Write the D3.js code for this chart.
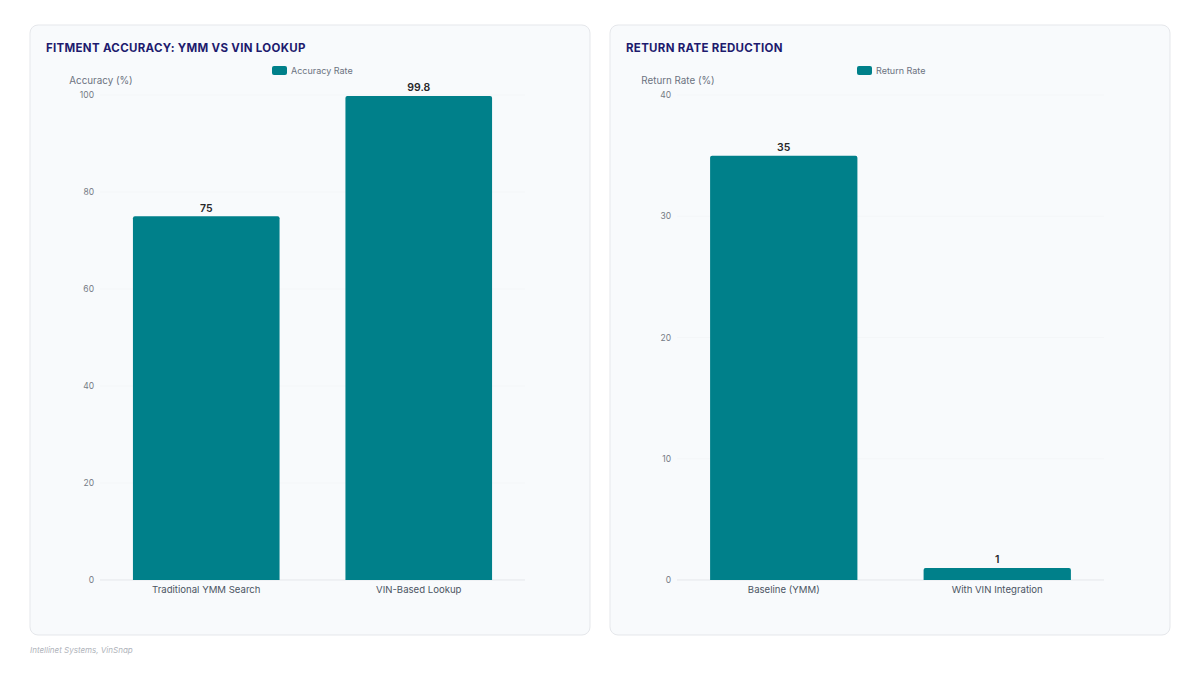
<!DOCTYPE html>
<html lang="en">
<head>
<meta charset="UTF-8">
<title>Fitment accuracy and return rate</title>
<style>
  body { margin: 0; background: #ffffff; font-family: Inter, "Noto Sans", sans-serif; }
  svg { display: block; }
</style>
</head>
<body>
<script src="https://cdn.jsdelivr.net/npm/d3@7"></script>
<script>
// data
var accCategories = ["Traditional YMM Search", "VIN-Based Lookup"];
var accValues = [75, 99.8];
var accTicks = [0, 20, 40, 60, 80, 100];

var retCategories = ["Baseline (YMM)", "With VIN Integration"];
var retValues = [35, 1];
var retTicks = [0, 10, 20, 30, 40];

var teal = "#00808a";
var W = 1200, H = 675;

var svg = d3.select("body").append("svg").attr("width", W).attr("height", H);

// draw one card with a bar chart inside
function card(opt) {
  var g = svg.append("g");
  g.append("rect").attr("x", opt.x).attr("y", 25).attr("width", 560).attr("height", 610)
    .attr("rx", 8).attr("fill", "#f8fafc").attr("stroke", "#e5e7eb");

  g.append("text").attr("x", opt.x + 16).attr("y", 51.5)
    .attr("font-size", 11.5).attr("font-weight", 700).attr("letter-spacing", "0.3px")
    .attr("fill", "#1e1b6e").text(opt.title);

  // legend
  g.append("rect").attr("x", opt.legX).attr("y", 66).attr("width", 15).attr("height", 9)
    .attr("rx", 2).attr("fill", teal);
  g.append("text").attr("x", opt.legX + 19).attr("y", 74)
    .attr("font-size", 9).attr("fill", "#6b7280").text(opt.legend);

  g.append("text").attr("x", opt.x0 + 1).attr("y", 84).attr("text-anchor", "middle")
    .attr("font-size", 9.8).attr("fill", "#6b7280").text(opt.yTitle);

  var x = d3.scaleBand().domain(opt.cats).range([opt.x0, opt.x1]).paddingInner(0.31).paddingOuter(0.155);
  var y = d3.scaleLinear().domain([0, opt.max]).range([580, 95]);

  // grid
  g.append("g").selectAll("line").data(opt.ticks).join("line")
    .attr("x1", opt.x0).attr("x2", opt.x1)
    .attr("y1", function (d) { return y(d); }).attr("y2", function (d) { return y(d); })
    .attr("stroke", function (d) { return d === 0 ? "#e5e7eb" : "#f4f6f8"; });

  var ya = g.append("g").attr("transform", "translate(" + opt.x0 + ",0)")
    .call(d3.axisLeft(y).tickValues(opt.ticks).tickSize(0).tickPadding(6));
  ya.select(".domain").remove();
  ya.selectAll("text").attr("font-size", 8.5).attr("fill", "#757b85").attr("font-family", "Inter, sans-serif");

  var xa = g.append("g").attr("transform", "translate(0,580)")
    .call(d3.axisBottom(x).tickSize(0).tickPadding(6.5));
  xa.select(".domain").remove();
  xa.selectAll("text").attr("font-size", 9.6).attr("fill", "#4b5563").attr("font-family", "Inter, sans-serif");

  var data = opt.cats.map(function (c, i) { return { c: c, v: opt.vals[i] }; });
  // bars with small rounded tops
  g.append("g").selectAll("path").data(data).join("path")
    .attr("fill", teal)
    .attr("d", function (d) {
      var x0 = x(d.c), w = x.bandwidth(), t = y(d.v), b = y(0), r = 2;
      return "M" + x0 + "," + b + "V" + (t + r) + "Q" + x0 + "," + t + " " + (x0 + r) + "," + t +
        "H" + (x0 + w - r) + "Q" + (x0 + w) + "," + t + " " + (x0 + w) + "," + (t + r) + "V" + b + "Z";
    });

  g.append("g").selectAll("text").data(data).join("text")
    .attr("x", function (d) { return x(d.c) + x.bandwidth() / 2; })
    .attr("y", function (d) { return y(d.v) - 4.5; })
    .attr("text-anchor", "middle").attr("font-size", 10.5).attr("font-weight", 600)
    .attr("fill", "#27272a").text(function (d) { return d.v; });
}

card({ x: 30, title: "FITMENT ACCURACY: YMM VS VIN LOOKUP", legend: "Accuracy Rate", legX: 272,
  yTitle: "Accuracy (%)", cats: accCategories, vals: accValues, ticks: accTicks, max: 100, x0: 100, x1: 525 });
card({ x: 610, title: "RETURN RATE REDUCTION", legend: "Return Rate", legX: 857,
  yTitle: "Return Rate (%)", cats: retCategories, vals: retValues, ticks: retTicks, max: 40, x0: 677, x1: 1104 });

svg.append("text").attr("x", 30).attr("y", 653).attr("font-size", 8).attr("font-style", "italic")
  .attr("fill", "#b0b4bb").text("Intellinet Systems, VinSnap");
</script>
</body>
</html>
